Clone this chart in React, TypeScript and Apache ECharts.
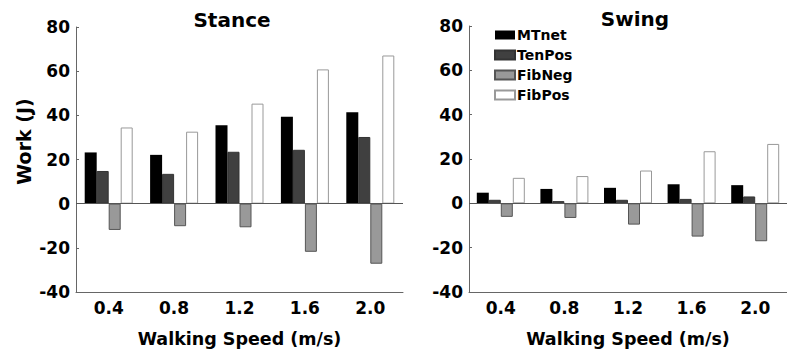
import React, { useEffect, useRef } from "react";
import * as echarts from "echarts";

const categories = ["0.4", "0.8", "1.2", "1.6", "2.0"];
const seriesNames = ["MTnet", "TenPos", "FibNeg", "FibPos"];

const stanceMTnet = [23.2, 22.1, 35.5, 39.4, 41.4];
const stanceTenPos = [14.8, 13.5, 23.5, 24.4, 30.2];
const stanceFibNeg = [-11.9, -10.2, -10.7, -21.8, -27.2];
const stanceFibPos = [34.5, 32.6, 45.3, 60.8, 67.1];

const swingMTnet = [4.8, 6.5, 7.0, 8.6, 8.2];
const swingTenPos = [1.6, 1.0, 1.6, 2.0, 3.1];
const swingFibNeg = [-6.1, -6.6, -9.6, -15.0, -17.1];
const swingFibPos = [11.5, 12.3, 14.8, 23.5, 26.8];

const yTicks = { min: -40, max: 80, interval: 20 };

const FONT = "'DejaVu Sans', 'Liberation Sans', Arial, sans-serif";

const styles = [
  { color: "#000000", borderColor: "#000000", borderWidth: 0 },
  { color: "#404040", borderColor: "#333333", borderWidth: 1 },
  { color: "#999999", borderColor: "#555555", borderWidth: 1 },
  { color: "#ffffff", borderColor: "#999999", borderWidth: 1 },
];

export default function App() {
  const ref = useRef<HTMLDivElement>(null);
  useEffect(() => {
    document.body.style.margin = "0";
    if (!ref.current) return;
    const chart = echarts.init(ref.current, undefined, { renderer: "svg" });
    const stance = [stanceMTnet, stanceTenPos, stanceFibNeg, stanceFibPos];
    const swing = [swingMTnet, swingTenPos, swingFibNeg, swingFibPos];

    const mkSeries = (data: number[][], idx: number) =>
      data.map((d, i) => ({
        type: "bar",
        name: seriesNames[i],
        xAxisIndex: idx,
        yAxisIndex: idx,
        data: d,
        barWidth: 12,
        barGap: "0%",
        itemStyle: styles[i],
        z: i === 0 ? 3 : 2,
        markLine:
          i === 0
            ? {
                silent: true,
                symbol: "none",
                label: { show: false },
                lineStyle: { color: "#555555", width: 1, type: "solid" },
                data: [{ yAxis: 0 }],
                z: 5,
              }
            : undefined,
      }));

    const yAxisBase = (idx: number) => ({
      type: "value",
      gridIndex: idx,
      min: yTicks.min,
      max: yTicks.max,
      interval: yTicks.interval,
      splitLine: { show: false },
      axisLine: { show: true, lineStyle: { color: "#666666", width: 1 } },
      axisTick: { show: true, inside: true, length: 3, lineStyle: { color: "#666666" } },
      axisLabel: {
        color: "#000",
        fontSize: 17,
        fontWeight: "bold",
        fontFamily: FONT,
        margin: 6,
      },
    });

    const xAxisBase = (idx: number) => ({
      type: "category",
      gridIndex: idx,
      data: categories,
      axisLine: { show: true, onZero: false, lineStyle: { color: "#666666", width: 1 } },
      axisTick: { show: false },
      axisLabel: {
        color: "#000",
        fontSize: 17,
        fontWeight: "bold",
        fontFamily: FONT,
        margin: 7,
      },
      name: "Walking Speed (m/s)",
      nameLocation: "middle",
      nameGap: 38,
      nameTextStyle: {
        color: "#000",
        fontSize: 17.5,
        fontWeight: "bold",
        fontFamily: FONT,
      },
    });

    chart.setOption({
      animation: false,
      backgroundColor: "#ffffff",
      title: [
        {
          text: "Stance",
          left: 227,
          top: 5,
          textAlign: "center",
          textStyle: { color: "#000", fontSize: 20, fontWeight: "bold", fontFamily: FONT },
        },
        {
          text: "Swing",
          left: 630,
          top: 4,
          textAlign: "center",
          textStyle: { color: "#000", fontSize: 20, fontWeight: "bold", fontFamily: FONT },
        },
      ],
      legend: {
        orient: "vertical",
        left: 494,
        top: 28,
        padding: 0,
        itemWidth: 20,
        itemHeight: 9,
        itemGap: 6,
        icon: "rect",
        data: seriesNames,
        selectedMode: false,
        textStyle: {
          color: "#000",
          fontSize: 14,
          fontWeight: "bold",
          fontFamily: FONT,
          padding: [0, 0, 0, -3],
        },
      },
      grid: [
        { left: 76, top: 27, width: 327, height: 266 },
        { left: 469, top: 26, width: 328, height: 267 },
      ],
      xAxis: [xAxisBase(0), xAxisBase(1)],
      yAxis: [
        {
          ...yAxisBase(0),
          name: "Work (J)",
          nameLocation: "middle",
          nameRotate: 90,
          nameGap: 43,
          nameTextStyle: {
            color: "#000",
            fontSize: 19,
            fontWeight: "bold",
            fontFamily: FONT,
            padding: [0, 0, 0, 36],
          },
        },
        yAxisBase(1),
      ],
      series: [...mkSeries(stance, 0), ...mkSeries(swing, 1)],
    });
    return () => chart.dispose();
  }, []);
  return <div ref={ref} style={{ width: 787, height: 353 }} />;
}
